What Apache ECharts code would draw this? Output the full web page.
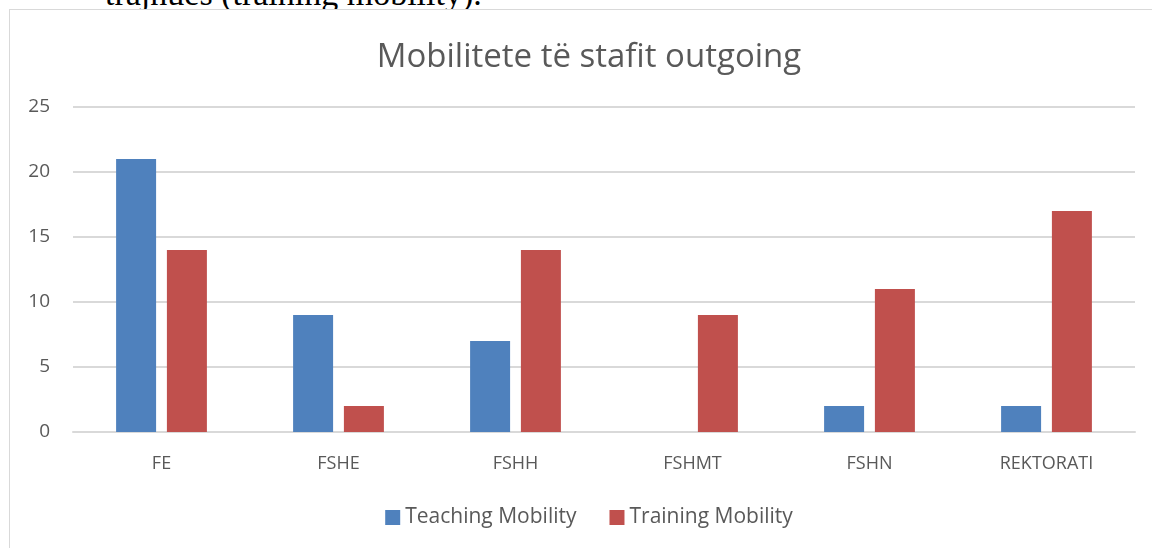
<!DOCTYPE html>
<html>
<head>
<meta charset="utf-8">
<script src="https://cdn.jsdelivr.net/npm/echarts@6/dist/echarts.min.js"></script>
<style>
  html, body { margin: 0; padding: 0; background: #fff; overflow: hidden; width: 1152px; height: 548px; position: relative; }
  #top-text {
    position: absolute; left: 105px; top: -23px;
    font-family: "Liberation Serif", "DejaVu Serif", serif;
    font-size: 34px; line-height: 1; color: #000; white-space: nowrap;
  }
  #frame {
    position: absolute; left: 9px; top: 9px;
    width: 1200px; height: 600px;
    border: 1px solid #d9d9d9;
    background: #fff;
  }
  /* chart box is wider than the window: the original frame runs off the right edge */
  #chart { position: absolute; left: 0; top: 0; width: 1178px; height: 548px; }
</style>
</head>
<body>
<div id="top-text">trajnues (training mobility).</div>
<div id="frame"></div>
<div id="chart"></div>
<script>
var categories = ["FE", "FSHE", "FSHH", "FSHMT", "FSHN", "REKTORATI"];
var teaching = [21, 9, 7, 0, 2, 2];
var training = [14, 2, 14, 9, 11, 17];
var yTicks = [0, 5, 10, 15, 20, 25];

var textColor = "#595959";
var font = "Open Sans";

var chart = echarts.init(document.getElementById("chart"));
chart.setOption({
  animation: false,
  color: ["#4f81bd", "#c0504d"],
  title: {
    text: "Mobilitete të stafit outgoing",
    left: "center",
    top: 36,
    textStyle: {
      fontFamily: font,
      fontWeight: "normal",
      fontSize: 33,
      color: textColor
    }
  },
  legend: {
    bottom: 15,
    left: "center",
    itemWidth: 15,
    itemHeight: 15,
    itemGap: 33,
    icon: "rect",
    textStyle: { fontFamily: font, fontSize: 21, color: textColor }
  },
  grid: { left: 73, right: 43, top: 107, bottom: 116 },
  xAxis: {
    type: "category",
    data: categories,
    axisLine: { lineStyle: { color: "#d9d9d9", width: 2 } },
    axisTick: { show: false },
    axisLabel: { fontFamily: font, fontSize: 18, color: textColor, margin: 23 }
  },
  yAxis: {
    type: "value",
    min: yTicks[0],
    max: yTicks[yTicks.length - 1],
    interval: 5,
    axisLine: { show: false },
    axisTick: { show: false },
    splitLine: { lineStyle: { color: "#d9d9d9", width: 2 } },
    axisLabel: { fontFamily: font, fontSize: 19, color: textColor, margin: 23 }
  },
  series: [
    { name: "Teaching Mobility", type: "bar", data: teaching, barWidth: 40, barGap: "27%" },
    { name: "Training Mobility", type: "bar", data: training, barWidth: 40, barGap: "27%" }
  ]
});
</script>
</body>
</html>
